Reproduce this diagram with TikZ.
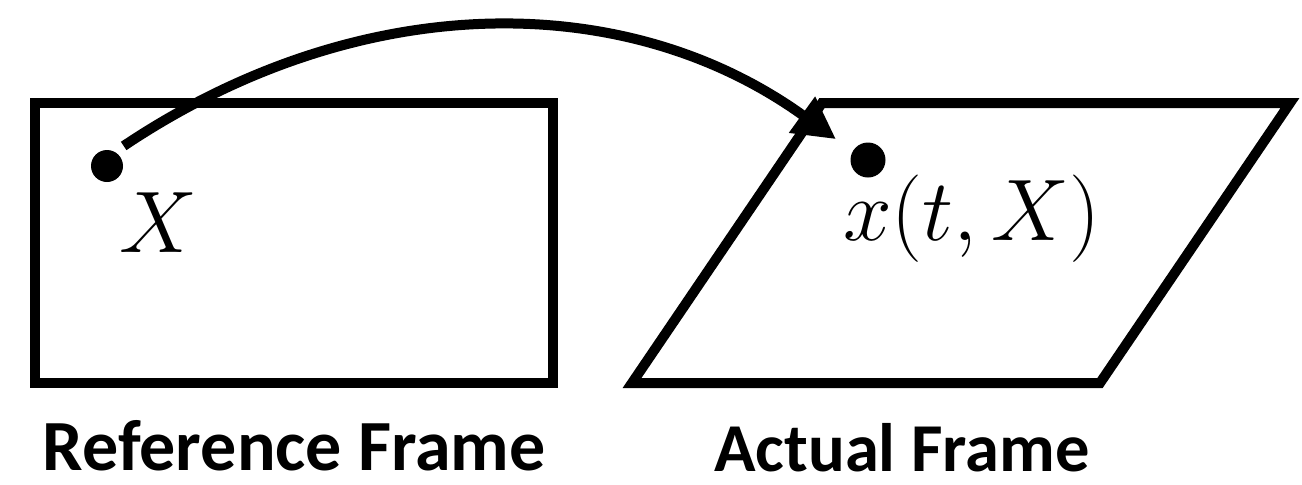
\documentclass[tikz,border=0pt]{standalone}
\usepackage{fontspec}
\setmainfont{Carlito}
\usetikzlibrary{arrows.meta}

\tikzset{
  frame/.style={line width=1mm},
  pt/.style={circle, fill, inner sep=0pt, minimum size=3.2mm},
  hand/.style={font=\fontsize{26}{30}\selectfont},
  caption/.style={font=\bfseries\fontsize{20.5}{24}\selectfont, anchor=base, inner sep=1pt},
}

\begin{document}
\begin{tikzpicture}
    \useasboundingbox (0,0) rectangle (13.02,4.84);

    % Reference frame
    \draw[frame] (0.35,1.01) rectangle (5.53,3.81);
    \node[pt] (dotX) at (1.07,3.18) {};
    \node[hand] (labX) at (1.58,2.61) {$X$};
    \node[caption] (capRef) at (2.945,0.14) {Reference Frame};

    % Actual frame
    \draw[frame] (8.22,3.81) -- (12.90,3.81) -- (11.00,1.01) -- (6.32,1.01) -- cycle;
    \node[pt, minimum size=3.5mm] (dotx) at (8.68,3.24) {};
    \node[hand] (labx) at (9.72,2.65) {$x(t,X)$};
    \node[caption, font=\bfseries\fontsize{19.5}{24}\selectfont] (capAct) at (9.02,0.13) {Actual Frame};

    % Motion map
    \draw[frame, -{Triangle[length=4.2mm,width=4.2mm]}, shorten <=1mm, shorten >=2mm]
        (dotX.60) .. controls (3.58,4.95) and (6.25,4.97) .. (dotx.150);
\end{tikzpicture}
\end{document}
